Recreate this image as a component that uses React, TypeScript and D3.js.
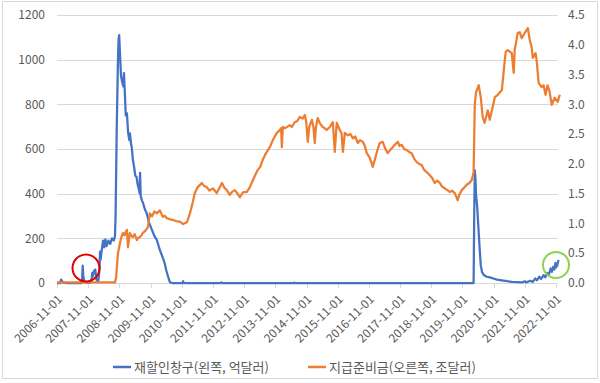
import React from 'react';
import * as d3 from 'd3';

const xTickLabels = [
  '2006-11-01','2007-11-01','2008-11-01','2009-11-01','2010-11-01','2011-11-01',
  '2012-11-01','2013-11-01','2014-11-01','2015-11-01','2016-11-01','2017-11-01',
  '2018-11-01','2019-11-01','2020-11-01','2021-11-01','2022-11-01'
];
const leftTicks = [0, 200, 400, 600, 800, 1000, 1200];
const rightTicks = [0, 0.5, 1, 1.5, 2, 2.5, 3, 3.5, 4, 4.5];

const seriesNames = ['재할인창구(왼쪽, 억달러)', '지급준비금(오른쪽, 조달러)'];

// 재할인창구 (left axis, 억달러)
const blueData: [string, number][] = [
  ['2006-11-01',0],['2006-12-06',0],['2006-12-20',15],['2007-01-10',2],['2007-02-14',0],
  ['2007-08-15',0],['2007-08-22',10],['2007-08-29',78],['2007-09-05',30],['2007-09-19',5],
  ['2007-10-24',0],['2007-11-28',2],['2007-12-12',20],['2007-12-19',45],['2007-12-26',30],
  ['2008-01-09',55],['2008-01-23',60],['2008-02-06',15],['2008-02-27',5],['2008-03-12',60],
  ['2008-03-19',140],['2008-03-26',105],['2008-04-09',150],['2008-04-23',190],['2008-05-07',160],
  ['2008-05-21',195],['2008-06-04',165],['2008-06-25',190],['2008-07-16',175],['2008-08-06',200],
  ['2008-08-27',190],['2008-09-10',210],['2008-09-17',300],['2008-10-01',700],['2008-10-15',1000],
  ['2008-10-22',1090],['2008-10-29',1110],['2008-11-05',1050],['2008-11-19',930],['2008-12-03',900],
  ['2008-12-17',880],['2008-12-24',940],['2009-01-07',820],['2009-01-14',750],['2009-01-28',760],
  ['2009-02-11',672],['2009-02-25',640],['2009-03-04',670],['2009-03-18',620],['2009-03-25',609],
  ['2009-04-08',551],['2009-04-22',520],['2009-05-06',480],['2009-05-20',475],['2009-06-03',440],
  ['2009-06-17',420],['2009-06-24',403],['2009-07-01',493],['2009-07-08',390],['2009-07-22',370],
  ['2009-08-05',358],['2009-08-26',330],['2009-09-16',313],['2009-10-14',270],['2009-11-18',237],
  ['2009-12-16',210],['2010-01-13',193],['2010-02-17',148],['2010-03-17',120],['2010-04-14',90],
  ['2010-05-05',55],['2010-05-26',27],['2010-06-16',3],['2010-07-14',0],['2010-11-10',0],
  ['2010-11-17',8],['2010-11-24',0],['2012-02-01',0],['2012-02-08',3],['2012-02-15',0],
  ['2014-06-04',0],['2014-06-11',2],['2014-06-18',0],['2020-03-11',0],['2020-03-18',300],
  ['2020-03-25',505],['2020-04-01',470],['2020-04-08',400],['2020-04-22',340],['2020-05-06',250],
  ['2020-05-20',160],['2020-06-03',80],['2020-06-17',50],['2020-07-08',36],['2020-08-12',28],
  ['2020-09-16',25],['2020-10-28',20],['2020-12-09',15],['2021-02-03',12],['2021-04-07',8],
  ['2021-06-02',5],['2021-08-04',4],['2021-09-29',3],['2021-11-03',8],['2021-11-17',3],
  ['2022-01-05',10],['2022-02-02',5],['2022-03-02',20],['2022-03-23',12],['2022-04-20',28],
  ['2022-05-11',18],['2022-06-08',35],['2022-06-29',25],['2022-07-20',45],['2022-08-10',38],
  ['2022-08-31',65],['2022-09-14',50],['2022-09-28',72],['2022-10-12',60],['2022-10-26',90],
  ['2022-11-02',70],['2022-11-16',80],['2022-11-30',103]
];

// 지급준비금 (right axis, 조달러)
const orangeData: [string, number][] = [
  ['2006-11-01',0.01],['2008-09-10',0.01],['2008-09-24',0.1],['2008-10-01',0.25],['2008-10-15',0.5],
  ['2008-10-29',0.6],['2008-11-07',0.67],['2008-11-26',0.78],['2008-12-13',0.84],['2008-12-31',0.8],
  ['2009-01-14',0.86],['2009-01-28',0.89],['2009-02-09',0.6],['2009-02-18',0.7],['2009-03-03',0.84],
  ['2009-03-18',0.8],['2009-04-07',0.77],['2009-04-29',0.82],['2009-05-24',0.72],['2009-06-10',0.76],
  ['2009-06-28',0.77],['2009-07-15',0.8],['2009-08-03',0.84],['2009-09-02',0.88],['2009-10-01',0.94],
  ['2009-10-24',1.17],['2009-11-18',1.12],['2009-12-16',1.2],['2010-01-15',1.17],['2010-02-18',1.22],
  ['2010-03-24',1.11],['2010-04-14',1.13],['2010-05-10',1.09],['2010-06-16',1.07],['2010-07-18',1.06],
  ['2010-08-25',1.04],['2010-10-10',1.03],['2010-11-17',0.99],['2011-01-01',1.02],['2011-02-05',1.17],
  ['2011-03-09',1.35],['2011-04-03',1.51],['2011-05-07',1.61],['2011-06-24',1.68],['2011-07-20',1.63],
  ['2011-08-21',1.61],['2011-09-21',1.55],['2011-11-01',1.59],['2011-12-16',1.51],['2012-01-18',1.6],
  ['2012-02-15',1.68],['2012-03-14',1.6],['2012-04-12',1.56],['2012-05-16',1.48],['2012-06-13',1.53],
  ['2012-07-15',1.56],['2012-08-15',1.5],['2012-09-12',1.44],['2012-10-17',1.52],['2012-12-03',1.53],
  ['2013-01-07',1.61],['2013-02-12',1.73],['2013-03-13',1.82],['2013-04-10',1.9],['2013-05-08',1.95],
  ['2013-06-07',2.07],['2013-07-03',2.15],['2013-08-06',2.23],['2013-09-04',2.3],['2013-10-03',2.4],
  ['2013-11-19',2.52],['2013-12-24',2.57],['2014-01-08',2.6],['2014-01-16',2.28],['2014-01-28',2.62],
  ['2014-02-26',2.6],['2014-04-19',2.65],['2014-05-14',2.62],['2014-06-16',2.7],['2014-07-16',2.72],
  ['2014-08-15',2.79],['2014-09-17',2.76],['2014-10-12',2.82],['2014-10-29',2.7],['2014-11-16',2.37],
  ['2014-12-03',2.62],['2015-01-03',2.74],['2015-01-21',2.62],['2015-02-06',2.35],['2015-02-18',2.6],
  ['2015-03-12',2.77],['2015-04-08',2.68],['2015-05-10',2.62],['2015-06-25',2.57],['2015-08-01',2.62],
  ['2015-09-06',2.7],['2015-09-28',2.2],['2015-10-21',2.69],['2015-11-25',2.57],['2015-12-16',2.52],
  ['2016-01-01',2.2],['2016-01-24',2.52],['2016-02-28',2.48],['2016-03-30',2.5],['2016-04-26',2.43],
  ['2016-05-25',2.46],['2016-06-24',2.35],['2016-07-20',2.4],['2016-08-21',2.37],['2016-09-14',2.3],
  ['2016-10-07',2.18],['2016-11-12',2.1],['2016-12-16',1.95],['2017-01-11',2.08],['2017-02-02',2.2],
  ['2017-03-07',2.35],['2017-04-12',2.37],['2017-05-10',2.26],['2017-06-09',2.18],['2017-07-12',2.24],
  ['2017-08-07',2.28],['2017-09-06',2.33],['2017-10-06',2.37],['2017-10-25',2.3],['2017-11-21',2.32],
  ['2017-12-20',2.25],['2018-01-19',2.23],['2018-02-14',2.2],['2018-03-16',2.18],['2018-04-18',2.08],
  ['2018-05-15',2.03],['2018-06-13',2.0],['2018-07-12',1.98],['2018-08-08',1.9],['2018-09-10',1.86],
  ['2018-10-15',1.81],['2018-11-14',1.76],['2018-12-12',1.68],['2019-01-09',1.72],['2019-02-09',1.68],
  ['2019-03-06',1.62],['2019-04-07',1.59],['2019-05-08',1.56],['2019-06-06',1.53],['2019-07-03',1.55],
  ['2019-08-03',1.51],['2019-09-07',1.39],['2019-09-25',1.48],['2019-10-24',1.56],['2019-11-20',1.6],
  ['2019-12-21',1.65],['2020-01-22',1.68],['2020-02-18',1.73],['2020-03-11',1.85],['2020-03-25',3.0],
  ['2020-04-08',3.2],['2020-05-10',3.32],['2020-06-03',3.12],['2020-06-25',2.79],['2020-07-18',2.69],
  ['2020-08-24',2.9],['2020-09-16',2.74],['2020-10-21',2.96],['2020-11-15',3.12],['2020-12-19',3.16],
  ['2021-02-05',3.24],['2021-02-28',3.58],['2021-03-22',3.88],['2021-04-15',3.91],['2021-06-01',3.86],
  ['2021-06-24',3.53],['2021-07-05',3.91],['2021-08-10',4.2],['2021-09-03',4.21],['2021-09-25',4.11],
  ['2021-11-01',4.2],['2021-12-06',4.28],['2021-12-29',4.08],['2022-01-21',3.95],['2022-02-02',3.78],
  ['2022-03-07',3.86],['2022-03-19',3.74],['2022-04-12',3.36],['2022-05-16',3.29],['2022-06-09',3.32],
  ['2022-07-02',3.16],['2022-07-25',3.32],['2022-08-19',3.21],['2022-09-12',2.99],['2022-10-16',3.11],
  ['2022-11-21',3.04],['2022-12-15',3.16]
];

const parse = d3.timeParse('%Y-%m-%d');

export default function App() {
  const W = 600, H = 383;
  const x = d3.scaleTime()
    .domain([parse('2006-11-01') as Date, parse('2022-11-01') as Date])
    .range([57, 556]);
  const yL = d3.scaleLinear().domain([0, 1200]).range([283, 15]);
  const yR = d3.scaleLinear().domain([0, 4.5]).range([283, 15]);

  const blueLine = d3.line<[string, number]>()
    .x(d => x(parse(d[0]) as Date))
    .y(d => yL(d[1]));
  const orangeLine = d3.line<[string, number]>()
    .x(d => x(parse(d[0]) as Date))
    .y(d => yR(d[1]));

  const font = "'Noto Sans CJK KR', 'Noto Sans', sans-serif";
  const grey = '#595959';
  const gridC = '#d9d9d9';
  const blue = '#4472C4';
  const orange = '#ED7D31';
  const x0 = 57, x1 = 558;

  return (
    <svg width={W} height={H} style={{ position: 'absolute', left: 0, top: 0, background: '#fff' }}
      fontFamily={font}>
      <rect x={2.5} y={1.5} width={595} height={377} fill="#fff" stroke={gridC} />
      {leftTicks.map(t => (
        <line key={'g' + t} x1={x0} x2={x1} y1={Math.round(yL(t)) + 0.5} y2={Math.round(yL(t)) + 0.5}
          stroke={gridC} strokeWidth={1} />
      ))}
      {xTickLabels.map(l => {
        const px = Math.round(x(parse(l) as Date)) + 0.5;
        return <line key={'t' + l} x1={px} x2={px} y1={283} y2={288} stroke={gridC} />;
      })}
      {leftTicks.map(t => (
        <text key={'l' + t} x={45} y={yL(t)} dy="0.35em" textAnchor="end" fontSize={12} fill={grey}>{t}</text>
      ))}
      {rightTicks.map(t => (
        <text key={'r' + t} x={568} y={yR(t)} dy="0.35em" textAnchor="start" fontSize={12} fill={grey}>{t.toFixed(1)}</text>
      ))}
      {xTickLabels.map(l => {
        const px = x(parse(l) as Date);
        return (
          <text key={'x' + l} transform={`translate(${px + 3},${297}) rotate(-45)`} textAnchor="end"
            dy="0.35em" fontSize={12} fill={grey}>{l}</text>
        );
      })}
      <path d={blueLine(blueData) || ''} fill="none" stroke={blue} strokeWidth={2.25} strokeLinejoin="round" />
      <path d={orangeLine(orangeData) || ''} fill="none" stroke={orange} strokeWidth={2.25} strokeLinejoin="round" />
      <circle cx={86} cy={268} r={13.5} fill="none" stroke="#E00000" strokeWidth={2} />
      <circle cx={556} cy={265} r={13} fill="none" stroke="#92D050" strokeWidth={2} />
      <g>
        <line x1={113} x2={131} y1={367} y2={367} stroke={blue} strokeWidth={2.5} />
        <text x={134} y={367} dy="0.35em" fontSize={13} fill={grey}>{seriesNames[0]}</text>
        <line x1={308} x2={326} y1={367} y2={367} stroke={orange} strokeWidth={2.5} />
        <text x={329} y={367} dy="0.35em" fontSize={13} fill={grey}>{seriesNames[1]}</text>
      </g>
    </svg>
  );
}
